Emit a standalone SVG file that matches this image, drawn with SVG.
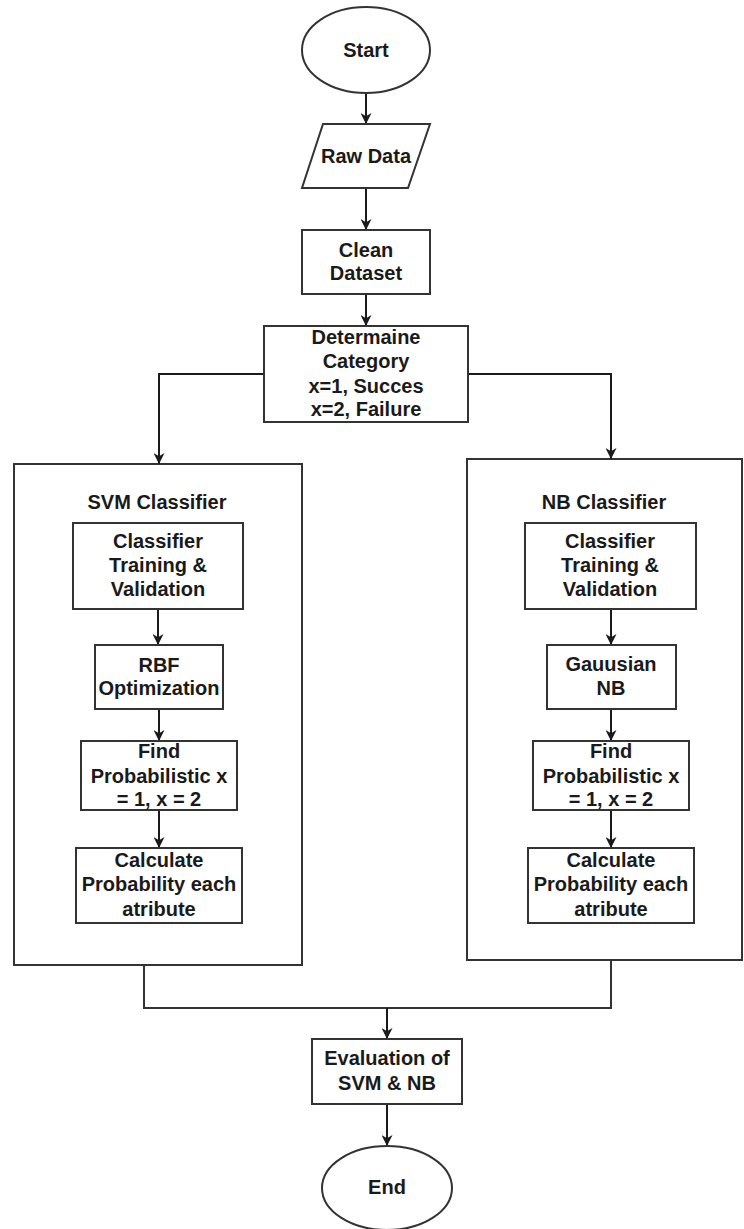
<svg xmlns="http://www.w3.org/2000/svg" width="744" height="1229" viewBox="0 0 744 1229">
<defs>
<marker id="arr" viewBox="0 0 10 10" refX="10" refY="5" markerWidth="11" markerHeight="11" markerUnits="userSpaceOnUse" orient="auto">
<path d="M0,0 L10,5 L0,10 L3,5 z" fill="#1a1a1a"/>
</marker>
<style>
.sh{fill:#ffffff;stroke:#333333;stroke-width:2}
.ct{fill:none;stroke:#333333;stroke-width:2}
.ln{fill:none;stroke:#1a1a1a;stroke-width:2;marker-end:url(#arr)}
.tx{font-family:"Liberation Sans",Arial,sans-serif;font-size:20px;font-weight:bold;fill:#1a1a1a;text-anchor:middle}
</style>
</defs>
<rect width="744" height="1229" fill="#ffffff"/>
<g id="svm-classifier">
<rect class="sh" x="14" y="464" width="288" height="501"/>
<text class="tx" x="157" y="509">SVM Classifier</text>
</g>
<g id="nb-classifier">
<rect class="sh" x="467" y="459" width="275" height="501"/>
<text class="tx" x="604" y="509">NB Classifier</text>
</g>
<g id="connectors">
<path class="ln" d="M366,93 V124"/>
<path class="ln" d="M366,188 V230"/>
<path class="ln" d="M366,294 V326"/>
<path class="ln" d="M264,374 H159 V464"/>
<path class="ln" d="M468,374 H611 V459"/>
<path class="ln" d="M158,609 V645"/>
<path class="ln" d="M159,709 V741"/>
<path class="ln" d="M159,810 V848"/>
<path class="ln" d="M611,609 V645"/>
<path class="ln" d="M611,709 V741"/>
<path class="ln" d="M611,810 V848"/>
<path class="ct" d="M144,965 V1008 H611 V960"/>
<path class="ln" d="M387,1008 V1039"/>
<path class="ln" d="M387,1104 V1146"/>
</g>
<g id="start">
<ellipse class="sh" cx="366" cy="50" rx="64" ry="43"/>
<text class="tx" x="366" y="57">Start</text>
</g>
<g id="raw-data">
<polygon class="sh" points="323,124 430,124 408,188 302,188"/>
<text class="tx" x="366" y="163">Raw Data</text>
</g>
<g id="clean-dataset">
<rect class="sh" x="302" y="230" width="128" height="64"/>
<text class="tx" x="366" y="257">Clean</text>
<text class="tx" x="366" y="280">Dataset</text>
</g>
<g id="determaine-category">
<rect class="sh" x="264" y="326" width="204" height="96"/>
<text class="tx" x="366" y="344">Determaine</text>
<text class="tx" x="366" y="368">Category</text>
<text class="tx" x="366" y="393">x=1, Succes</text>
<text class="tx" x="366" y="416">x=2, Failure</text>
</g>
<g id="svm-training">
<rect class="sh" x="73" y="523" width="170" height="86"/>
<text class="tx" x="158" y="548">Classifier</text>
<text class="tx" x="158" y="572">Training &amp;</text>
<text class="tx" x="158" y="596">Validation</text>
</g>
<g id="rbf-optimization">
<rect class="sh" x="95" y="645" width="128" height="64"/>
<text class="tx" x="159" y="672">RBF</text>
<text class="tx" x="159" y="695">Optimization</text>
</g>
<g id="svm-find">
<rect class="sh" x="81" y="741" width="156" height="69"/>
<text class="tx" x="159" y="758">Find</text>
<text class="tx" x="159" y="783">Probabilistic x</text>
<text class="tx" x="159" y="806">= 1, x = 2</text>
</g>
<g id="svm-calculate">
<rect class="sh" x="76" y="848" width="166" height="75"/>
<text class="tx" x="159" y="867">Calculate</text>
<text class="tx" x="159" y="891">Probability each</text>
<text class="tx" x="159" y="916">atribute</text>
</g>
<g id="nb-training">
<rect class="sh" x="525" y="523" width="171" height="86"/>
<text class="tx" x="610" y="548">Classifier</text>
<text class="tx" x="610" y="572">Training &amp;</text>
<text class="tx" x="610" y="596">Validation</text>
</g>
<g id="gaussian-nb">
<rect class="sh" x="547" y="645" width="129" height="64"/>
<text class="tx" x="611" y="671">Gauusian</text>
<text class="tx" x="611" y="695">NB</text>
</g>
<g id="nb-find">
<rect class="sh" x="533" y="741" width="156" height="69"/>
<text class="tx" x="611" y="758">Find</text>
<text class="tx" x="611" y="783">Probabilistic x</text>
<text class="tx" x="611" y="806">= 1, x = 2</text>
</g>
<g id="nb-calculate">
<rect class="sh" x="528" y="848" width="166" height="75"/>
<text class="tx" x="611" y="867">Calculate</text>
<text class="tx" x="611" y="891">Probability each</text>
<text class="tx" x="611" y="916">atribute</text>
</g>
<g id="evaluation">
<rect class="sh" x="312" y="1039" width="150" height="65"/>
<text class="tx" x="387" y="1065">Evaluation of</text>
<text class="tx" x="387" y="1090">SVM &amp; NB</text>
</g>
<g id="end">
<ellipse class="sh" cx="387" cy="1188" rx="65" ry="42"/>
<text class="tx" x="387" y="1194">End</text>
</g>
</svg>
